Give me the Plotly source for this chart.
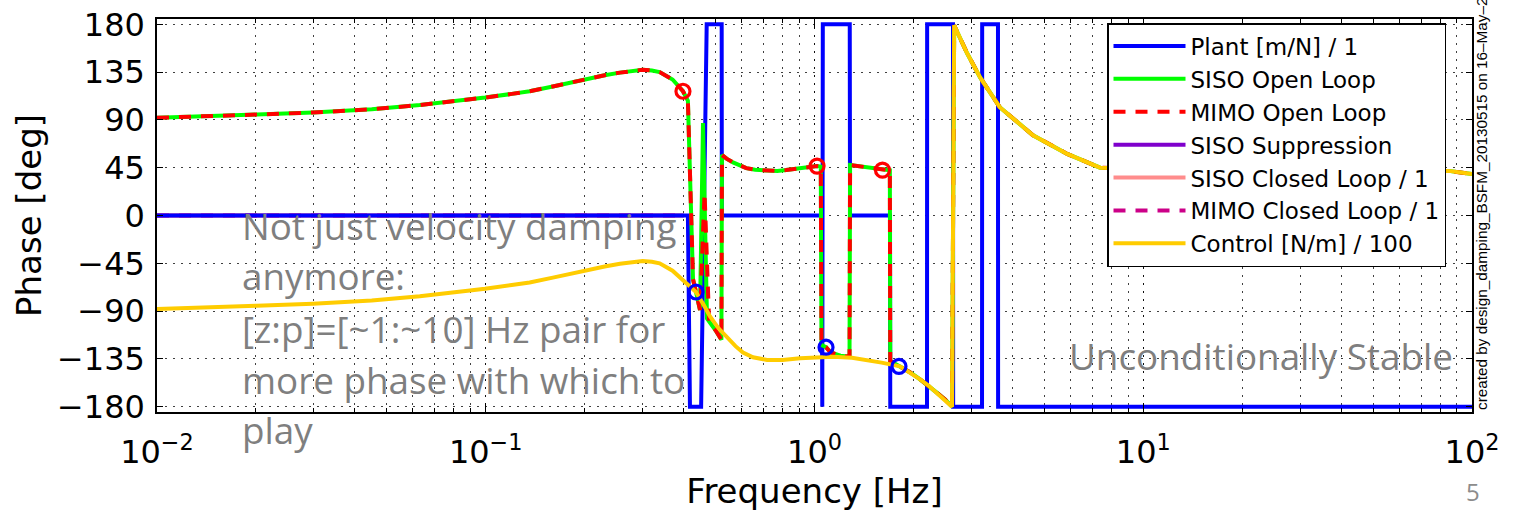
import plotly.graph_objects as go

# ---------------- data ----------------
plant_freq = [0.01, 0.412, 0.418, 0.452, 0.470, 0.522, 0.5225, 1.052, 1.056, 1.060,
              1.280, 1.2825, 1.697, 1.700, 2.199, 2.201, 2.638, 2.641, 3.233, 3.236,
              3.615, 3.618, 100]
plant_phase = [0, 0, -180, -180, 180, 180, 0, 0, -180, 180,
               180, 0, 0, -180, -180, 180, 180, -180, -180, 180,
               180, -180, -180]

ol_low_freq = [0.01, 0.0155, 0.0201, 0.0298, 0.045, 0.063, 0.08, 0.0995, 0.12, 0.136,
               0.16, 0.18, 0.203, 0.23, 0.256, 0.28, 0.30, 0.32, 0.338, 0.37,
               0.398, 0.412, 0.427, 0.436, 0.4485]
ol_low_phase = [92, 93.5, 95, 97, 100, 104, 107.5, 111, 114.5, 117,
                121.5, 125, 129, 132, 134.5, 136.5, 137.2, 136.5, 135, 128,
                117, 108, -60, -72, -89]

siso_spike_freq = [0.458, 0.471]
siso_spike_phase = [87, -97]
mimo_spike_freq = [0.463, 0.478]
mimo_spike_phase = [21, -100]

ol_high_freq = [0.50, 0.521, 0.523, 0.54, 0.565, 0.59, 0.62, 0.66, 0.717, 0.77,
                0.82, 0.88, 0.95, 1.018, 1.045, 1.05, 1.084, 1.12, 1.2, 1.278,
                1.283, 1.4, 1.5, 1.61, 1.695, 1.70, 1.82, 1.95, 2.09, 2.23,
                2.36, 2.5, 2.62, 2.66, 2.91, 3.19, 3.66, 4.62, 5.87, 7.39,
                10, 20, 50, 85, 100]
ol_high_phase = [-108, -117, 57, 53.5, 50, 47, 44.6, 43, 42.1, 42,
                 42.8, 44, 45.9, 46.5, 46, -122, -124, -129, -132, -133,
                 47.5, 46, 44.5, 42.7, 42.5, -137, -142, -147.5, -154, -160.5,
                 -167, -173.5, -180, 179, 153, 130, 102, 75.5, 58, 45,
                 44, 43, 42.5, 42, 39]

ctrl_freq = [0.01, 0.0155, 0.0201, 0.0298, 0.045, 0.063, 0.08, 0.0995, 0.12, 0.136,
             0.16, 0.18, 0.203, 0.23, 0.256, 0.28, 0.30, 0.32, 0.338, 0.37,
             0.40, 0.42, 0.436, 0.46, 0.481, 0.51, 0.542, 0.575, 0.606, 0.65,
             0.717, 0.8, 0.904, 1.0, 1.138, 1.3, 1.445, 1.6, 1.82, 1.95,
             2.09, 2.23, 2.36, 2.5, 2.62, 2.66, 2.91, 3.19, 3.66, 4.62,
             5.87, 7.39, 10, 20, 50, 85, 100]
ctrl_phase = [-88, -86.5, -85, -83, -80, -76, -72.5, -69, -65.5, -63,
              -58.5, -55, -51, -48, -45.5, -43.5, -42.8, -43.5, -45, -52,
              -62, -67, -72, -84, -95, -106, -115, -123, -129, -133.5,
              -136, -136, -134.5, -133.5, -133, -134, -136, -138.5, -142, -147.5,
              -154, -160.5, -167, -173.5, -180, 179, 153, 130, 102, 75.5,
              58, 45, 44, 43, 42.5, 42, 39]

supp_freq = [0.01, 0.40]
supp_phase = [0, 0]
cl_siso_freq = [0.01, 0.40]
cl_siso_phase = [0, 0]
cl_mimo_freq = [0.01, 0.40]
cl_mimo_phase = [0, 0]

ugf_freq = [0.398, 1.018, 1.61]
ugf_phase = [117, 46.5, 42.7]
pm_freq = [0.436, 1.084, 1.807]
pm_phase = [-72, -124, -142]

x_tickvals = [0.01, 0.1, 1, 10, 100]
x_ticktext = ["10<sup>\u22122</sup>", "10<sup>\u22121</sup>", "10<sup>0</sup>",
              "10<sup>1</sup>", "10<sup>2</sup>"]
y_tickvals = [-180, -135, -90, -45, 0, 45, 90, 135, 180]

note_lines = ["Not just velocity damping", "anymore:", "[z:p]=[~1:~10] Hz pair for",
              "more phase with which to", "play"]

# ---------------- figure ----------------
W, H = 1515, 516
ML, MR, MT, MB = 157, 43, 19, 104
PW, PH = W - ML - MR, H - MT - MB


def px(x):
    return (x - ML) / PW


def py(y):
    return (H - MB - y) / PH


fig = go.Figure()

# closed-loop / suppression traces lie under the plant trace (drawn first)
fig.add_trace(go.Scatter(x=supp_freq, y=supp_phase, mode="lines", name="SISO Suppression",
                         line=dict(color="#7f00cc", width=4), legendrank=4))
fig.add_trace(go.Scatter(x=cl_siso_freq, y=cl_siso_phase, mode="lines", name="SISO Closed Loop / 1",
                         line=dict(color="#ff8c8c", width=4), legendrank=5))
fig.add_trace(go.Scatter(x=cl_mimo_freq, y=cl_mimo_phase, mode="lines", name="MIMO Closed Loop / 1",
                         line=dict(color="#cc0088", width=4, dash="12px,10px"), legendrank=6))

fig.add_trace(go.Scatter(x=plant_freq, y=plant_phase, mode="lines", name="Plant [m/N] / 1",
                         line=dict(color="#0000ff", width=4), legendrank=1))
fig.add_trace(go.Scatter(x=ol_low_freq + siso_spike_freq + ol_high_freq,
                         y=ol_low_phase + siso_spike_phase + ol_high_phase,
                         mode="lines", name="SISO Open Loop",
                         line=dict(color="#00ff00", width=4), legendrank=2))
fig.add_trace(go.Scatter(x=ol_low_freq + mimo_spike_freq + ol_high_freq,
                         y=ol_low_phase + mimo_spike_phase + ol_high_phase,
                         mode="lines", name="MIMO Open Loop",
                         line=dict(color="#ff0000", width=4, dash="12px,10px"), legendrank=3))
fig.add_trace(go.Scatter(x=ctrl_freq, y=ctrl_phase, mode="lines", name="Control [N/m] / 100",
                         line=dict(color="#ffcc00", width=4), legendrank=7))

fig.add_trace(go.Scatter(x=ugf_freq, y=ugf_phase, mode="markers", showlegend=False,
                         marker=dict(symbol="circle-open", size=14, color="#ff0000",
                                     line=dict(width=3.2, color="#ff0000"))))
fig.add_trace(go.Scatter(x=pm_freq, y=pm_phase, mode="markers", showlegend=False,
                         marker=dict(symbol="circle-open", size=14, color="#0000ff",
                                     line=dict(width=3.2, color="#0000ff"))))

grid_dash = "1.5px,6.5px"
grid_col = "rgba(0,0,0,0.75)"

fig.update_xaxes(type="log", range=[-2, 2], tickvals=x_tickvals, ticktext=x_ticktext,
                 ticks="inside", ticklen=9, tickwidth=1.2, tickcolor="black",
                 showline=True, linecolor="black", linewidth=1.5, mirror="allticks",
                 showgrid=True, gridcolor=grid_col, gridwidth=1, griddash=grid_dash,
                 zeroline=False,
                 tickfont=dict(family="DejaVu Sans", size=32, color="black"),
                 ticklabelstandoff=11,
                 minor=dict(ticks="inside", ticklen=4, tickwidth=1, tickcolor="black",
                            dtick="D1", showgrid=True, gridcolor=grid_col, gridwidth=1,
                            griddash=grid_dash),
                 title=dict(text="Frequency [Hz]", font=dict(family="DejaVu Sans", size=34, color="black"),
                            standoff=8))
fig.update_yaxes(range=[-185, 185], tickvals=y_tickvals,
                 ticks="inside", ticklen=6, tickwidth=1.2, tickcolor="black",
                 showline=True, linecolor="black", linewidth=1.5, mirror="allticks",
                 showgrid=True, gridcolor=grid_col, gridwidth=1, griddash=grid_dash,
                 zeroline=False,
                 tickfont=dict(family="DejaVu Sans", size=32, color="black"),
                 ticklabelstandoff=4,
                 title=dict(text="Phase [deg]", font=dict(family="DejaVu Sans", size=34, color="black"),
                            standoff=5))

annotations = []
note_baselines = [239, 289, 342, 393, 443]
for txt, base in zip(note_lines, note_baselines):
    annotations.append(dict(text=txt, x=px(240), y=py(base - 13), xref="paper", yref="paper",
                            xanchor="left", yanchor="middle", showarrow=False,
                            font=dict(family="Open Sans", size=36.8, color="#7f7f7f")))
annotations.append(dict(text="Unconditionally Stable", x=px(1067), y=py(356), xref="paper", yref="paper",
                        xanchor="left", yanchor="middle", showarrow=False,
                        font=dict(family="Open Sans", size=36.8, color="#7f7f7f")))
annotations.append(dict(text="5", x=px(1473), y=py(491), xref="paper", yref="paper",
                        xanchor="center", yanchor="middle", showarrow=False,
                        font=dict(family="Open Sans", size=24, color="#8c8c8c")))
annotations.append(dict(text="created by design_damping_BSFM_20130515 on 16\u2013May\u20132013",
                        x=px(1481), y=py(412), xref="paper", yref="paper",
                        xanchor="center", yanchor="bottom", textangle=-90, showarrow=False,
                        font=dict(family="Liberation Sans", size=15.3, color="black")))

fig.update_layout(
    width=W, height=H,
    margin=dict(l=ML, r=MR, t=MT, b=MB, autoexpand=False),
    paper_bgcolor="white", plot_bgcolor="white",
    showlegend=True,
    legend=dict(x=px(1107), y=py(23), xanchor="left", yanchor="top",
                bgcolor="white", bordercolor="black", borderwidth=1.5,
                font=dict(family="DejaVu Sans", size=23, color="black"),
                itemwidth=72, traceorder="normal"),
    annotations=annotations,
)

fig.write_html("out.html")
